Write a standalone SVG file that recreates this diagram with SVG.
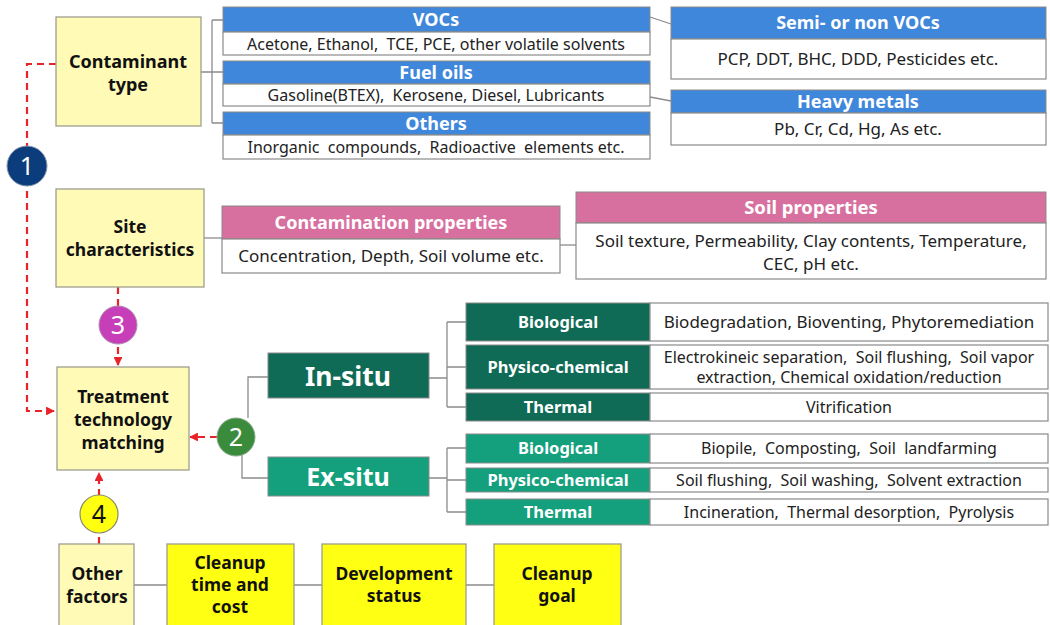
<svg xmlns="http://www.w3.org/2000/svg" width="1050" height="625" viewBox="0 0 1050 625">
<defs>
<style>
text{font-family:"Noto Sans","Open Sans","Liberation Sans",sans-serif;text-anchor:middle;white-space:pre}
.pale{fill:#FFFAB6;stroke:#9E9E8E;stroke-width:1.3}
.yel{fill:#FFFF14;stroke:#9E9E8E;stroke-width:1.3}
.blue{fill:#3F87DB;stroke:#8A8A8A;stroke-width:1}
.pink{fill:#D8709F;stroke:#8A8A8A;stroke-width:1}
.dg{fill:#0F6B55;stroke:#8A8A8A;stroke-width:1}
.tg{fill:#14A07D;stroke:#8A8A8A;stroke-width:1}
.wb{fill:#FFFFFF;stroke:#8A8A8A;stroke-width:1.2}
.nt{font-weight:bold;font-size:17.5px;fill:#111}
.ht{font-weight:bold;font-size:18px;fill:#FFFFFF}
.bt{font-size:16px;fill:#222}
.lt{font-weight:bold;font-size:16.5px;fill:#FFFFFF}
.num{font-size:25px;fill:#FFFFFF}
.conn{fill:none;stroke:#8C8C8C;stroke-width:1.3}
.dash{fill:none;stroke:#E8232A;stroke-width:2.2;stroke-dasharray:7,5}
</style>
<marker id="ah" viewBox="0 0 10 10" refX="9" refY="5" markerWidth="4" markerHeight="4" orient="auto">
<path d="M0,0 L10,5 L0,10 z" fill="#E8232A"/>
</marker>
</defs>
<rect width="1050" height="625" fill="#FFFFFF"/>

<g id="connectors">
<path class="conn" d="M201,72 H212 M212,20 V123 M212,20 H223 M212,72 H223 M212,123 H223"/>
<path class="conn" d="M650,17 L671,24 M650,97 L671,101"/>
<path class="conn" d="M204,238 H222"/>
<path class="conn" d="M560,245 H576"/>
<path class="conn" d="M268,377 H248 V418"/>
<path class="conn" d="M242,455 V478 H268"/>
<path class="conn" d="M429,378 H447 M447,322 V407 M447,322 H466 M447,367 H466 M447,407 H466"/>
<path class="conn" d="M429,478 H447 M447,448 V512 M447,448 H466 M447,480 H466 M447,512 H466"/>
<path class="conn" d="M134,585 H167 M294,585 H322 M466,585 H494"/>
<path class="dash" d="M56,64 H27 V411 H54" marker-end="url(#ah)"/>
<path class="dash" d="M118,287 V365" marker-end="url(#ah)"/>
<path class="dash" d="M217,437 H190" marker-end="url(#ah)"/>
<path class="dash" d="M99,544 V473" marker-end="url(#ah)"/>
</g>

<g id="contaminant-type">
<rect class="pale" x="56" y="17" width="145" height="109"/>
<text class="nt" x="128" y="68" style="font-size:18px">Contaminant</text>
<text class="nt" x="128" y="91" style="font-size:18px">type</text>
</g>

<g id="vocs">
<rect class="blue" x="223" y="7" width="427" height="25"/>
<text class="ht" x="436" y="26">VOCs</text>
<rect class="wb" x="223" y="32" width="427" height="23"/>
<text class="bt" x="436" y="49.5" xml:space="preserve">Acetone, Ethanol,  TCE, PCE, other volatile solvents</text>
</g>

<g id="fuel-oils">
<rect class="blue" x="223" y="61" width="427" height="23"/>
<text class="ht" x="436" y="79">Fuel oils</text>
<rect class="wb" x="223" y="84" width="427" height="22"/>
<text class="bt" x="436" y="100.5" xml:space="preserve">Gasoline(BTEX),  Kerosene, Diesel, Lubricants</text>
</g>

<g id="others">
<rect class="blue" x="223" y="112" width="427" height="23"/>
<text class="ht" x="436" y="130">Others</text>
<rect class="wb" x="223" y="135" width="427" height="24"/>
<text class="bt" x="436" y="152.5" xml:space="preserve">Inorganic  compounds,  Radioactive  elements etc.</text>
</g>

<g id="semi-vocs">
<rect class="blue" x="671" y="7" width="375" height="32"/>
<text class="ht" x="858" y="29">Semi- or non VOCs</text>
<rect class="wb" x="671" y="39" width="375" height="40"/>
<text class="bt" x="858" y="65" style="font-size:17px">PCP, DDT, BHC, DDD, Pesticides etc.</text>
</g>

<g id="heavy-metals">
<rect class="blue" x="671" y="90" width="375" height="23"/>
<text class="ht" x="858" y="108">Heavy metals</text>
<rect class="wb" x="671" y="113" width="375" height="32"/>
<text class="bt" x="858" y="135" style="font-size:17px">Pb, Cr, Cd, Hg, As etc.</text>
</g>

<g id="site-characteristics">
<rect class="pale" x="56" y="189" width="148" height="98"/>
<text class="nt" x="130" y="233">Site</text>
<text class="nt" x="130" y="256">characteristics</text>
</g>

<g id="contamination-properties">
<rect class="pink" x="222" y="206" width="338" height="33"/>
<text class="ht" x="391" y="229">Contamination properties</text>
<rect class="wb" x="222" y="239" width="338" height="34"/>
<text class="bt" x="391" y="262" style="font-size:17px">Concentration, Depth, Soil volume etc.</text>
</g>

<g id="soil-properties">
<rect class="pink" x="576" y="192" width="470" height="31"/>
<text class="ht" x="811" y="214" style="font-size:18.5px">Soil properties</text>
<rect class="wb" x="576" y="223" width="470" height="56"/>
<text class="bt" x="811" y="247" style="font-size:17px">Soil texture, Permeability, Clay contents, Temperature,</text>
<text class="bt" x="811" y="270" style="font-size:17px">CEC, pH etc.</text>
</g>

<g id="treatment-matching">
<rect class="pale" x="57" y="367" width="132" height="103"/>
<text class="nt" x="123" y="403">Treatment</text>
<text class="nt" x="123" y="426">technology</text>
<text class="nt" x="123" y="449">matching</text>
</g>

<g id="in-situ">
<rect class="dg" x="268" y="353" width="161" height="45"/>
<text x="348" y="386" style="font-weight:bold;font-size:26.5px;fill:#FFFFFF">In-situ</text>
</g>

<g id="ex-situ">
<rect class="tg" x="268" y="457" width="161" height="39"/>
<text x="348" y="486" style="font-weight:bold;font-size:25px;fill:#FFFFFF">Ex-situ</text>
</g>

<g id="in-biological">
<rect class="dg" x="466" y="303" width="184" height="38"/>
<text class="lt" x="558" y="328">Biological</text>
<rect class="wb" x="650" y="303" width="398" height="38"/>
<text class="bt" x="849" y="328" style="font-size:17px">Biodegradation, Bioventing, Phytoremediation</text>
</g>

<g id="in-physico">
<rect class="dg" x="466" y="345" width="184" height="44"/>
<text class="lt" x="558" y="373">Physico-chemical</text>
<rect class="wb" x="650" y="345" width="398" height="44"/>
<text class="bt" x="849" y="363" xml:space="preserve">Electrokineic separation,  Soil flushing,  Soil vapor</text>
<text class="bt" x="849" y="383">extraction, Chemical oxidation/reduction</text>
</g>

<g id="in-thermal">
<rect class="dg" x="466" y="393" width="184" height="28"/>
<text class="lt" x="558" y="413">Thermal</text>
<rect class="wb" x="650" y="393" width="398" height="28"/>
<text class="bt" x="849" y="413">Vitrification</text>
</g>

<g id="ex-biological">
<rect class="tg" x="466" y="434" width="184" height="29"/>
<text class="lt" x="558" y="454">Biological</text>
<rect class="wb" x="650" y="434" width="398" height="29"/>
<text class="bt" x="849" y="454" xml:space="preserve">Biopile,  Composting,  Soil  landfarming</text>
</g>

<g id="ex-physico">
<rect class="tg" x="466" y="468" width="184" height="24"/>
<text class="lt" x="558" y="486">Physico-chemical</text>
<rect class="wb" x="650" y="468" width="398" height="24"/>
<text class="bt" x="849" y="486" xml:space="preserve">Soil flushing,  Soil washing,  Solvent extraction</text>
</g>

<g id="ex-thermal">
<rect class="tg" x="466" y="499" width="184" height="26"/>
<text class="lt" x="558" y="518">Thermal</text>
<rect class="wb" x="650" y="499" width="398" height="26"/>
<text class="bt" x="849" y="518" xml:space="preserve">Incineration,  Thermal desorption,  Pyrolysis</text>
</g>

<g id="other-factors">
<rect class="pale" x="59" y="544" width="75" height="90"/>
<text class="nt" x="97" y="580">Other</text>
<text class="nt" x="97" y="603">factors</text>
</g>

<g id="cleanup-time">
<rect class="yel" x="167" y="544" width="127" height="90"/>
<text class="nt" x="230" y="569">Cleanup</text>
<text class="nt" x="230" y="591">time and</text>
<text class="nt" x="230" y="613">cost</text>
</g>

<g id="development-status">
<rect class="yel" x="322" y="544" width="144" height="90"/>
<text class="nt" x="394" y="580">Development</text>
<text class="nt" x="394" y="602">status</text>
</g>

<g id="cleanup-goal">
<rect class="yel" x="494" y="544" width="127" height="90"/>
<text class="nt" x="557" y="580">Cleanup</text>
<text class="nt" x="557" y="602">goal</text>
</g>

<g id="badge-1">
<circle cx="27" cy="166" r="20" fill="#0B3D7C" stroke="#8A9AB0" stroke-width="1"/>
<text class="num" x="27" y="175">1</text>
</g>
<g id="badge-2">
<circle cx="236" cy="437" r="19" fill="#3A8C3C" stroke="#8AA88A" stroke-width="1"/>
<text class="num" x="236" y="446">2</text>
</g>
<g id="badge-3">
<circle cx="118" cy="325" r="19" fill="#C63FB9" stroke="#B08AB0" stroke-width="1"/>
<text class="num" x="118" y="334">3</text>
</g>
<g id="badge-4">
<circle cx="99" cy="514" r="19" fill="#FFFF10" stroke="#8A8A70" stroke-width="1.2"/>
<text class="num" x="99" y="523" style="fill:#111">4</text>
</g>
</svg>
